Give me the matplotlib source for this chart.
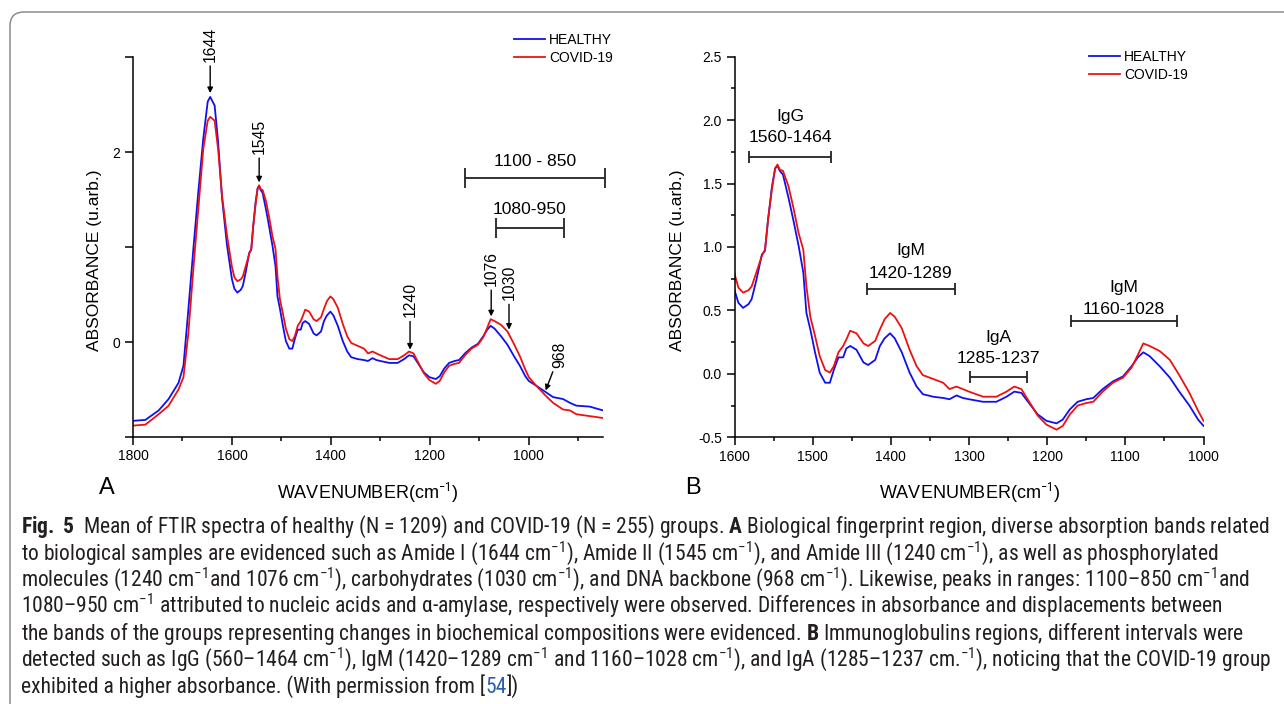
import matplotlib
matplotlib.use('Agg')
import matplotlib.pyplot as plt
from matplotlib import font_manager
from matplotlib.patches import FancyBboxPatch
from matplotlib.transforms import IdentityTransform
from matplotlib.ticker import MultipleLocator, FormatStrFormatter

# mean FTIR spectra (panel B shows the same curves, zoomed)
wavenumber = [1800, 1775, 1748, 1728, 1708, 1698, 1688, 1678, 1668, 1658,
              1649, 1644, 1635, 1628, 1620, 1610, 1600, 1595, 1589, 1582,
              1578, 1572, 1565, 1561, 1557, 1552, 1548, 1545, 1542, 1538,
              1531, 1525, 1518, 1512, 1508, 1503, 1497, 1491, 1484, 1478,
              1473, 1467, 1461, 1457, 1452, 1444, 1435, 1429, 1420, 1414,
              1408, 1401, 1395, 1386, 1376, 1367, 1359, 1346, 1333, 1325,
              1316, 1308, 1300, 1282, 1265, 1252, 1242, 1233, 1222, 1212,
              1201, 1188, 1180, 1171, 1161, 1150, 1141, 1129, 1116, 1103,
              1092, 1084, 1077, 1069, 1056, 1043, 1031, 1018, 1007, 1000,
              985, 965, 951, 931, 917, 904, 877, 850]
healthy = [-0.83, -0.82, -0.72, -0.60, -0.43, -0.25, 0.35, 0.98, 1.58, 2.14,
           2.53, 2.58, 2.49, 2.11, 1.51, 1.02, 0.66, 0.56, 0.52, 0.55,
           0.59, 0.74, 0.94, 0.97, 1.22, 1.48, 1.62, 1.64, 1.60, 1.57,
           1.39, 1.22, 1.01, 0.80, 0.48, 0.35, 0.17, 0.01, -0.07, -0.07,
           0.03, 0.13, 0.13, 0.20, 0.22, 0.19, 0.09, 0.07, 0.11, 0.22,
           0.28, 0.32, 0.28, 0.17, 0.01, -0.10, -0.16, -0.18, -0.19, -0.20,
           -0.17, -0.19, -0.20, -0.22, -0.22, -0.18, -0.14, -0.15, -0.24, -0.32,
           -0.37, -0.39, -0.36, -0.28, -0.22, -0.20, -0.19, -0.12, -0.06, -0.02,
           0.06, 0.13, 0.17, 0.14, 0.06, -0.03, -0.14, -0.25, -0.36, -0.41,
           -0.46, -0.53, -0.58, -0.60, -0.64, -0.67, -0.68, -0.72]
covid = [-0.88, -0.87, -0.76, -0.67, -0.50, -0.37, 0.10, 0.77, 1.40, 2.03,
         2.33, 2.37, 2.33, 2.03, 1.54, 1.12, 0.79, 0.68, 0.64, 0.66,
         0.69, 0.80, 0.93, 0.98, 1.22, 1.46, 1.62, 1.65, 1.61, 1.60,
         1.48, 1.32, 1.11, 0.98, 0.69, 0.45, 0.30, 0.14, 0.03, 0.01,
         0.06, 0.17, 0.22, 0.27, 0.34, 0.32, 0.24, 0.22, 0.26, 0.35,
         0.43, 0.48, 0.45, 0.36, 0.19, 0.06, -0.01, -0.04, -0.07, -0.12,
         -0.10, -0.12, -0.14, -0.18, -0.18, -0.14, -0.10, -0.12, -0.23, -0.33,
         -0.40, -0.44, -0.41, -0.32, -0.25, -0.23, -0.22, -0.14, -0.07, -0.03,
         0.05, 0.15, 0.24, 0.22, 0.18, 0.11, -0.01, -0.15, -0.29, -0.37,
         -0.46, -0.57, -0.64, -0.71, -0.72, -0.76, -0.78, -0.80]

# panel A: peak arrows (label, arrow tip, text anchor)
peak_labels = ['1644', '1545', '1240', '1076', '1030', '968']
peak_tip_x = [1644, 1545, 1240, 1076, 1040, 966]
peak_tip_y = [2.62, 1.68, -0.08, 0.27, 0.13, -0.51]
peak_text_x = [1644, 1545, 1240, 1076, 1040, 938]
peak_text_y = [2.95, 1.98, 0.26, 0.59, 0.44, -0.27]

# panel A: range bars
a_range_labels = ['1100 - 850', '1080-950']
a_range_lo = [1129, 1067]
a_range_hi = [845, 929]
a_range_y = [1.73, 1.20]
a_range_text_y = [1.90, 1.40]

# panel B: immunoglobulin bands
b_band_names = ['IgG', 'IgM', 'IgA', 'IgM']
b_band_ranges = ['1560-1464', '1420-1289', '1285-1237', '1160-1028']
b_band_lo = [1581, 1431, 1299, 1169]
b_band_hi = [1477, 1318, 1226, 1034]
b_band_y = [1.713, 0.672, -0.027, 0.414]
b_range_text_y = [1.86, 0.795, 0.118, 0.506]
b_name_text_y = [2.03, 0.97, 0.283, 0.677]

caption_lines = [
    r'$\mathbf{Fig.\ 5}$  Mean of FTIR spectra of healthy (N = 1209) and COVID-19 (N = 255) groups. '
    r'$\mathbf{A}$ Biological fingerprint region, diverse absorption bands related',
    r'to biological samples are evidenced such as Amide I (1644 cm$^{-1}$), Amide II (1545 cm$^{-1}$), '
    r'and Amide III (1240 cm$^{-1}$), as well as phosphorylated',
    r'molecules (1240 cm$^{-1}$and 1076 cm$^{-1}$), carbohydrates (1030 cm$^{-1}$), and DNA backbone '
    r'(968 cm$^{-1}$). Likewise, peaks in ranges: 1100–850 cm$^{-1}$and',
    r'1080–950 cm$^{-1}$ attributed to nucleic acids and α-amylase, respectively were observed. '
    r'Differences in absorbance and displacements between',
    r'the bands of the groups representing changes in biochemical compositions were evidenced. '
    r'$\mathbf{B}$ Immunoglobulins regions, different intervals were',
    r'detected such as IgG (560–1464 cm$^{-1}$), IgM (1420–1289 cm$^{-1}$ and 1160–1028 cm$^{-1}$), '
    r'and IgA (1285–1237 cm.$^{-1}$), noticing that the COVID-19 group',
]
caption_last = ['exhibited a higher absorbance. (With permission from [', '54', '])']

W, H = 1284, 704
BLUE = '#1010ee'
RED = '#ee1111'

installed = {f.name for f in font_manager.fontManager.ttflist}
CAP_FONT = next((n for n in ['Liberation Sans Narrow', 'DejaVu Sans Condensed', 'Roboto Condensed',
                             'Open Sans Condensed'] if n in installed), 'Liberation Sans')

plt.rcParams['font.family'] = ['Liberation Sans', 'DejaVu Sans']
plt.rcParams['axes.unicode_minus'] = False
plt.rcParams['mathtext.fontset'] = 'custom'
plt.rcParams['mathtext.rm'] = CAP_FONT
plt.rcParams['mathtext.it'] = CAP_FONT
plt.rcParams['mathtext.bf'] = CAP_FONT + ':bold'

fig = plt.figure(figsize=(W / 100, H / 100), dpi=100)


def px_axes(x0, x1, y_top, y_bot):
    return fig.add_axes([x0 / W, 1 - y_bot / H, (x1 - x0) / W, (y_bot - y_top) / H])


def style_axes(ax):
    for s in ['top', 'right']:
        ax.spines[s].set_visible(False)
    for s in ['left', 'bottom']:
        ax.spines[s].set_linewidth(1.1)
    ax.tick_params(which='both', direction='out', width=1.1, labelsize=10)
    ax.tick_params(which='major', length=5.5)
    ax.tick_params(which='minor', length=3)


# ---------------- panel A ----------------
axA = px_axes(133, 603, 57, 437)
axA.plot(wavenumber, healthy, color=BLUE, lw=1.3, label='HEALTHY')
axA.plot(wavenumber, covid, color=RED, lw=1.3, label='COVID-19')
axA.set_xlim(1800, 850)
axA.set_ylim(-1, 3)
style_axes(axA)
axA.xaxis.set_major_locator(MultipleLocator(200))
axA.xaxis.set_minor_locator(MultipleLocator(100))
axA.yaxis.set_major_locator(MultipleLocator(2))
axA.yaxis.set_minor_locator(MultipleLocator(1))
axA.tick_params(axis='y', which='minor', length=5.5)

for lab, tx, ty, sx, sy in zip(peak_labels, peak_tip_x, peak_tip_y, peak_text_x, peak_text_y):
    axA.annotate(lab, xy=(tx, ty), xytext=(sx, sy), rotation=90, ha='center', va='bottom',
                 fontsize=11.3, annotation_clip=False,
                 arrowprops=dict(arrowstyle='-|>', color='k', lw=1.0, mutation_scale=8,
                                 shrinkA=1, shrinkB=0))

for lab, lo, hi, y, ty in zip(a_range_labels, a_range_lo, a_range_hi, a_range_y, a_range_text_y):
    axA.errorbar((lo + hi) / 2, y, xerr=(lo - hi) / 2, fmt='none', ecolor='#222222',
                 elinewidth=1.3, capsize=7, capthick=1.3, clip_on=False)
    axA.text((lo + hi) / 2, ty, lab, ha='center', va='center', fontsize=12.6)

axA.legend(frameon=False, loc='upper left', bbox_to_anchor=(0.8096, 1.063), borderaxespad=0,
           borderpad=0, handlelength=2.25, handletextpad=0.3, labelspacing=0.28, fontsize=10)

axA.set_xlabel('WAVENUMBER(cm$^{-1}$)', fontsize=13)
axA.xaxis.set_label_coords(0.498, -0.147)
axA.xaxis.label.set_va('center')
axA.set_ylabel('ABSORBANCE (u.arb.)', fontsize=12.5)
axA.yaxis.set_label_coords(-0.081, 0.466)
axA.yaxis.label.set_va('center')
axA.text(-0.055, -0.134, 'A', transform=axA.transAxes, fontsize=17, ha='center', va='center')

# ---------------- panel B ----------------
axB = px_axes(734.5, 1203.5, 56.7, 437.3)
axB.plot(wavenumber, healthy, color=BLUE, lw=1.3, label='HEALTHY')
axB.plot(wavenumber, covid, color=RED, lw=1.3, label='COVID-19')
axB.set_xlim(1600, 1000)
axB.set_ylim(-0.5, 2.5)
style_axes(axB)
axB.xaxis.set_major_locator(MultipleLocator(100))
axB.xaxis.set_minor_locator(MultipleLocator(50))
axB.yaxis.set_major_locator(MultipleLocator(0.5))
axB.yaxis.set_minor_locator(MultipleLocator(0.25))
axB.yaxis.set_major_formatter(FormatStrFormatter('%.1f'))

for name, rng, lo, hi, y, ry, ny in zip(b_band_names, b_band_ranges, b_band_lo, b_band_hi,
                                        b_band_y, b_range_text_y, b_name_text_y):
    axB.errorbar((lo + hi) / 2, y, xerr=(lo - hi) / 2, fmt='none', ecolor='#222222',
                 elinewidth=1.3, capsize=4.2, capthick=1.3)
    axB.text((lo + hi) / 2, ry, rng, ha='center', va='center', fontsize=12.6)
    axB.text((lo + hi) / 2, ny, name, ha='center', va='center', fontsize=12.6)

axB.legend(frameon=False, loc='upper left', bbox_to_anchor=(0.7548, 1.0176), borderaxespad=0,
           borderpad=0, handlelength=2.25, handletextpad=0.3, labelspacing=0.28, fontsize=10)

axB.set_xlabel('WAVENUMBER(cm$^{-1}$)', fontsize=13)
axB.xaxis.set_label_coords(0.501, -0.146)
axB.xaxis.label.set_va('center')
axB.set_ylabel('ABSORBANCE (u.arb.)', fontsize=12.5)
axB.yaxis.set_label_coords(-0.1226, 0.466)
axB.yaxis.label.set_va('center')
axB.text(-0.088, -0.134, 'B', transform=axB.transAxes, fontsize=17, ha='center', va='center')

# ---------------- frame and caption ----------------
frame = FancyBboxPatch((10, -40), 1320, H - 12 + 40, boxstyle='round,pad=0,rounding_size=14',
                       transform=IdentityTransform(), facecolor='none', edgecolor='#8c8c8c', lw=1.1)
fig.add_artist(frame)

renderer = fig.canvas.get_renderer()
CAP_X = 21
cap_targets = [1268, 1220, 1257, 1208, 1224, 1276]
ratios = []
for line, tgt in zip(caption_lines, cap_targets):
    t = fig.text(0, 0, line, fontsize=10, family=CAP_FONT)
    ratios.append((tgt - CAP_X) / t.get_window_extent(renderer).width)
    t.remove()
ratios.sort()
cap_size = 10 * ratios[len(ratios) // 2]

line_y = [528 + 26.67 * i for i in range(7)]
for line, y in zip(caption_lines, line_y):
    fig.text(CAP_X / W, 1 - (y + 5) / H, line, fontsize=cap_size, family=CAP_FONT,
             color='#231f20', va='baseline')

x = CAP_X
for part, col in zip(caption_last, ['#231f20', '#2a5db0', '#231f20']):
    t = fig.text(x / W, 1 - (line_y[6] + 5) / H, part, fontsize=cap_size, family=CAP_FONT,
                 color=col, va='baseline')
    x += t.get_window_extent(renderer).width

fig.savefig('out.png', dpi=100)
